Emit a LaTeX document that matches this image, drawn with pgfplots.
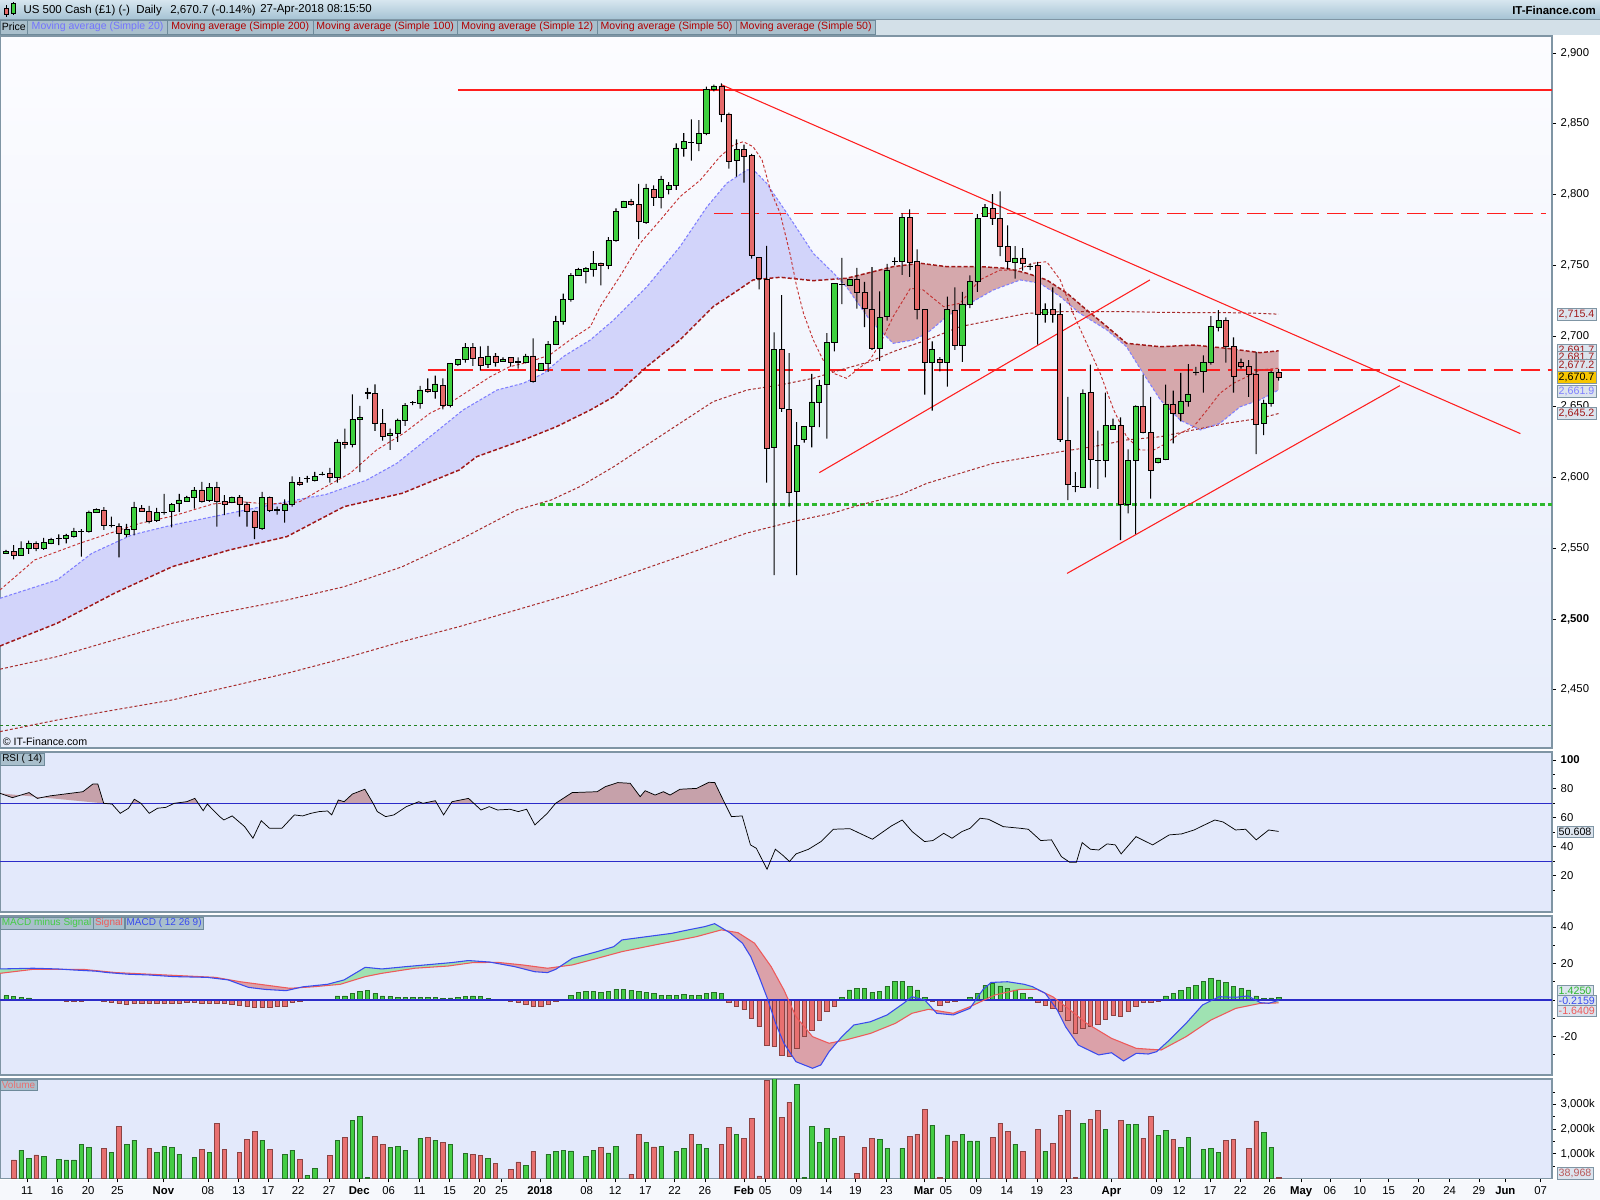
\documentclass[border=0pt]{standalone}
\usepackage{pgfplots}
\pgfplotsset{compat=1.18}
\usepackage{pgfplotstable}
\usepgfplotslibrary{fillbetween}
\usepackage{fontspec}
\setmainfont{Liberation Sans}

\definecolor{cgreen}{HTML}{3FD03F}
\definecolor{cred}{HTML}{E56A6A}
\definecolor{vgreen}{HTML}{44CC44}
\definecolor{vred}{HTML}{E87070}
\definecolor{edge}{HTML}{7F95A4}
\definecolor{pbg}{HTML}{E3E9FB}
\definecolor{ptop}{HTML}{FCFCFF}
\definecolor{pbot}{HTML}{E7EDFB}
\definecolor{lav}{HTML}{D2D4FA}
\definecolor{rose}{HTML}{D5A8AC}
\definecolor{marred}{HTML}{C43333}
\definecolor{madark}{HTML}{A01818}
\definecolor{mablue}{HTML}{8080FF}
\definecolor{lblue}{HTML}{2B2BC8}
\definecolor{macdblue}{HTML}{3A4BEE}
\definecolor{sigred}{HTML}{EE5A5A}
\definecolor{mgfill}{HTML}{9FE2B2}
\definecolor{mrfill}{HTML}{DBA1A9}
\definecolor{rsifill}{HTML}{C6A1AA}
\definecolor{boxbg}{HTML}{DCE4EE}
\definecolor{legbg}{HTML}{A9BFCC}
\definecolor{legedge}{HTML}{6E8A9A}
\definecolor{gold}{HTML}{F7C600}
\definecolor{pagebg}{HTML}{F6F8FC}
\definecolor{tbtop}{HTML}{D7E6EF}
\definecolor{tbbot}{HTML}{A6C3D4}
\definecolor{legrow}{HTML}{D3E0E8}
\definecolor{legred}{HTML}{B00000}
\definecolor{legblue}{HTML}{7373FF}
\definecolor{hred}{HTML}{FF1E1E}
\definecolor{hgreen}{HTML}{2DB82D}

% ---------------- candles ----------------
\pgfplotstableread{
i O H L C
0 2546.4 2548.8 2546.0 2547.9
2 2545.0 2554.9 2544.5 2549.8
3 2550.2 2555.4 2546.0 2553.5
5 2550.2 2557.3 2548.8 2554.0
6 2553.5 2557.3 2552.9 2556.4
7 2556.9 2559.7 2552.1 2557.0
8 2556.9 2560.2 2553.5 2558.8
9 2558.3 2564.4 2557.4 2561.6
10 2561.6 2563.5 2544.0 2561.7
11 2562.1 2576.6 2561.1 2575.6
12 2575.6 2578.1 2575.1 2577.6
14 2566.2 2572.4 2564.8 2566.3
16 2560.1 2567.2 2557.8 2563.4
17 2563.4 2582.7 2559.1 2579.0
20 2569.6 2578.5 2568.6 2575.2
21 2575.2 2588.4 2573.7 2575.3
22 2576.1 2581.8 2564.8 2580.8
23 2581.8 2588.4 2575.6 2584.1
24 2583.2 2587.0 2582.7 2586.0
25 2585.6 2593.1 2578.0 2591.2
27 2583.6 2596.0 2582.7 2593.1
30 2582.7 2586.5 2581.8 2585.6
34 2563.9 2589.9 2563.0 2586.0
36 2577.1 2579.4 2573.7 2577.2
37 2576.6 2584.6 2568.1 2580.8
38 2581.3 2600.7 2579.4 2596.8
40 2599.2 2601.2 2596.3 2599.3
41 2598.2 2603.9 2597.2 2601.0
42 2602.4 2603.9 2601.5 2602.5
44 2600.1 2627.0 2596.3 2625.1
46 2623.2 2658.7 2621.3 2641.1
47 2641.1 2650.6 2603.8 2642.6
48 2659.7 2663.4 2655.4 2659.8
51 2629.9 2634.5 2619.5 2631.3
52 2631.3 2641.6 2625.1 2640.7
53 2640.2 2652.5 2636.5 2651.1
54 2653.0 2653.9 2651.1 2653.1
55 2652.5 2664.8 2648.7 2661.9
57 2661.0 2671.9 2655.8 2666.1
59 2651.1 2680.5 2649.6 2680.3
60 2679.8 2683.7 2678.8 2683.6
61 2683.6 2695.0 2681.2 2692.1
64 2679.8 2693.0 2677.4 2685.9
66 2682.2 2684.9 2682.2 2683.6
68 2681.7 2684.9 2676.9 2681.8
69 2681.2 2687.3 2680.7 2685.9
71 2676.0 2680.4 2675.5 2680.3
72 2680.3 2696.3 2674.6 2694.4
73 2694.0 2714.2 2694.0 2710.0
74 2710.5 2729.9 2708.1 2726.1
75 2725.6 2744.4 2724.2 2743.0
76 2743.0 2748.2 2742.5 2746.8
77 2745.4 2748.7 2737.2 2747.8
78 2747.2 2760.0 2741.9 2751.0
80 2750.0 2769.9 2747.2 2767.6
81 2767.6 2790.2 2766.7 2788.3
82 2791.2 2795.4 2790.9 2795.0
85 2780.3 2807.5 2779.3 2804.6
87 2797.7 2813.1 2790.1 2810.7
88 2803.7 2808.8 2800.0 2806.1
89 2806.1 2836.2 2803.2 2832.9
90 2832.9 2843.3 2826.8 2837.2
91 2836.7 2853.1 2823.9 2836.8
92 2836.2 2852.6 2830.6 2843.3
93 2843.3 2876.2 2841.9 2874.3
94 2874.3 2877.7 2872.9 2876.7
97 2823.9 2839.0 2812.7 2831.6
102 2621.3 2702.5 2531.0 2690.2
105 2590.2 2639.2 2531.0 2622.7
106 2627.0 2636.0 2624.6 2636.0
107 2636.0 2673.2 2621.3 2653.4
108 2653.4 2669.0 2635.5 2665.2
109 2666.1 2702.0 2627.5 2695.3
110 2695.3 2737.2 2689.2 2737.2
112 2735.8 2740.3 2735.4 2740.0
116 2691.0 2731.6 2682.4 2713.2
117 2713.6 2751.0 2710.8 2746.2
118 2752.8 2755.6 2749.9 2752.9
119 2752.8 2786.7 2743.2 2783.8
123 2681.2 2696.2 2647.2 2690.5
125 2681.2 2727.8 2664.2 2718.8
127 2693.4 2731.1 2681.7 2722.1
128 2722.1 2742.9 2719.7 2738.7
129 2738.7 2786.2 2731.1 2783.3
130 2784.3 2793.2 2784.3 2790.9
134 2751.8 2763.5 2740.5 2755.2
136 2749.4 2751.3 2746.6 2749.5
138 2715.0 2723.0 2709.4 2718.8
143 2592.9 2662.3 2592.9 2659.4
146 2612.2 2659.9 2600.0 2636.8
147 2634.0 2641.6 2633.6 2636.8
149 2581.1 2619.8 2574.6 2612.2
150 2612.2 2651.0 2560.0 2650.6
153 2610.9 2613.8 2610.0 2613.8
154 2612.6 2665.6 2612.2 2651.5
156 2645.3 2674.0 2639.6 2653.8
157 2653.8 2680.1 2650.0 2659.0
158 2674.5 2678.2 2672.1 2674.6
159 2675.0 2686.3 2659.9 2681.6
160 2681.2 2714.0 2679.7 2707.0
161 2706.0 2718.3 2703.2 2711.2
167 2638.2 2655.0 2630.0 2652.7
168 2652.7 2675.5 2650.0 2674.4
}\greenT

\pgfplotstableread{
i O H L C
1 2547.9 2552.1 2542.1 2545.0
4 2553.5 2554.9 2547.9 2550.2
13 2577.1 2579.0 2563.0 2566.2
15 2565.7 2567.6 2543.6 2560.6
18 2578.5 2580.4 2576.0 2576.1
19 2576.1 2579.9 2567.6 2569.1
26 2591.2 2596.8 2582.3 2583.2
28 2593.1 2596.8 2565.3 2583.2
29 2583.2 2587.5 2573.3 2580.8
31 2586.0 2587.5 2572.4 2581.3
32 2581.3 2582.7 2565.3 2576.1
33 2576.1 2576.6 2556.4 2564.4
35 2585.6 2586.5 2575.6 2577.1
39 2596.8 2600.3 2594.3 2594.9
43 2602.9 2606.8 2596.3 2600.1
45 2625.1 2634.5 2620.4 2623.7
49 2659.2 2665.8 2633.0 2638.3
50 2638.3 2648.3 2626.0 2628.9
56 2662.4 2670.0 2660.0 2661.0
58 2665.2 2670.0 2648.2 2651.1
62 2692.1 2695.0 2678.8 2684.1
63 2684.6 2692.6 2675.5 2679.3
65 2685.9 2687.8 2678.4 2681.7
67 2684.6 2684.6 2678.4 2681.7
70 2685.9 2698.3 2667.1 2667.6
79 2751.0 2751.9 2735.8 2750.0
83 2795.0 2796.9 2792.1 2793.1
84 2793.1 2807.5 2768.5 2780.8
86 2803.7 2806.5 2792.0 2797.7
95 2876.7 2878.6 2851.2 2856.9
96 2856.9 2857.9 2818.3 2823.4
98 2831.6 2835.2 2808.4 2826.8
99 2827.3 2828.7 2754.7 2757.1
100 2755.7 2755.7 2732.9 2740.5
101 2740.0 2763.7 2596.3 2620.8
103 2690.7 2728.9 2646.3 2648.7
104 2648.2 2687.8 2579.4 2589.3
111 2736.3 2755.2 2722.5 2736.2
113 2740.0 2748.1 2719.3 2730.6
114 2731.0 2738.2 2706.2 2719.3
115 2718.8 2748.6 2690.1 2691.0
120 2783.8 2789.4 2741.8 2751.8
121 2752.8 2761.2 2711.7 2718.8
122 2718.8 2718.8 2658.6 2681.2
124 2683.6 2685.0 2675.0 2681.2
126 2718.3 2734.4 2690.1 2693.4
131 2789.9 2800.3 2778.5 2782.8
132 2782.8 2802.2 2756.4 2763.0
133 2763.0 2778.1 2747.0 2752.8
135 2755.2 2762.0 2746.2 2751.3
137 2749.9 2752.3 2693.9 2715.0
139 2718.8 2734.4 2709.4 2715.0
140 2715.5 2723.0 2625.1 2627.0
141 2626.0 2657.0 2583.9 2595.3
142 2593.5 2603.8 2589.6 2593.4
144 2660.3 2679.7 2592.9 2612.6
145 2612.3 2633.1 2592.0 2612.2
148 2636.8 2642.5 2555.8 2580.7
151 2650.0 2672.6 2631.2 2632.1
152 2631.6 2657.0 2585.0 2605.3
155 2651.5 2661.3 2624.1 2645.3
162 2711.2 2713.2 2681.2 2692.9
163 2692.9 2699.0 2659.9 2671.6
164 2681.6 2684.0 2676.9 2678.8
165 2678.3 2683.0 2657.0 2673.2
166 2673.2 2688.7 2616.5 2637.8
169 2674.5 2676.5 2668.5 2670.7
}\redT

% ---------------- moving averages ----------------
\pgfplotstableread{
i v
-0.8 2520.5
3.8 2541.7
9.8 2553.5
13.8 2560.6
17.8 2567.6
22.2 2572.8
27.5 2581.3
31.1 2582.9
34.6 2581.3
37.3 2581.8
39.0 2582.9
41.7 2591.2
45.7 2603.0
49.2 2619.4
52.8 2631.2
56.3 2645.4
58.5 2651.2
61.6 2661.8
64.3 2671.2
66.9 2678.3
69.6 2681.8
72.2 2686.6
74.9 2697.2
77.6 2706.6
78.9 2720.7
81.5 2741.9
84.2 2765.5
86.9 2782.0
89.5 2798.4
92.2 2810.2
94.8 2826.7
96.6 2835.0
97.9 2837.3
99.2 2833.8
100.4 2824.4
101.5 2803.2
102.8 2786.7
104.1 2758.4
105.0 2734.8
105.9 2716.0
107.2 2697.2
108.5 2683.0
109.9 2673.6
111.6 2670.1
113.0 2676.0
114.7 2683.0
116.1 2694.8
117.8 2713.6
120.1 2733.7
121.8 2732.5
124.5 2720.7
126.7 2723.1
129.3 2739.6
132.0 2746.6
134.2 2746.6
136.4 2751.4
138.2 2752.5
140.0 2739.6
141.7 2716.0
143.5 2694.8
145.3 2673.6
147.1 2647.7
148.8 2628.8
150.6 2619.4
152.4 2619.4
154.1 2624.2
155.9 2631.2
157.7 2635.9
159.5 2647.7
161.2 2659.5
163.0 2666.6
164.8 2671.2
166.5 2676.0
169.0 2677.2
}\maTwelve

\pgfplotstableread{
i v
-0.8 2514.6
6.8 2527.6
11.4 2546.4
16.7 2559.4
22.1 2566.4
29.7 2574.7
37.3 2582.9
42.5 2588.0
47.9 2598.2
51.9 2610.0
56.3 2628.8
60.7 2647.7
65.2 2661.8
68.7 2666.6
71.4 2673.6
74.0 2685.4
77.6 2697.2
80.7 2711.3
85.1 2734.8
89.5 2763.1
93.1 2791.4
95.7 2807.9
98.4 2817.3
99.2 2817.8
101.0 2807.9
103.7 2786.7
107.2 2758.4
109.9 2744.3
111.6 2734.8
114.7 2711.3
117.8 2694.8
120.5 2697.2
122.3 2701.9
124.9 2713.6
128.0 2723.1
131.1 2732.5
134.7 2739.6
137.3 2737.2
140.0 2727.8
142.6 2716.0
146.2 2704.2
148.8 2692.4
151.0 2673.6
153.3 2654.8
155.9 2640.6
158.6 2633.6
161.2 2638.3
163.9 2650.0
166.5 2654.8
169.0 2661.9
}\maTwenty

\pgfplotstableread{
i v
-0.8 2480.9
6.8 2497.0
14.4 2518.2
22.1 2537.0
29.7 2548.8
37.3 2558.2
44.9 2579.4
52.6 2588.8
60.2 2605.3
62.5 2614.7
68.7 2626.5
73.1 2635.9
77.6 2647.7
80.7 2657.1
85.1 2678.3
89.5 2697.2
93.9 2720.7
96.6 2730.2
99.2 2739.6
102.8 2741.5
107.2 2739.1
111.6 2740.8
113.4 2743.1
117.8 2749.0
121.4 2751.4
124.9 2749.0
129.4 2749.0
132.9 2747.8
135.6 2744.3
138.2 2739.6
140.9 2730.2
143.5 2718.4
146.2 2706.6
148.8 2694.8
153.3 2692.4
157.7 2693.6
162.1 2691.3
166.5 2688.2
169.0 2689.5
}\maFifty

\pgfplotstableread{
i v
-0.8 2464.5
6.8 2473.4
14.4 2485.2
22.1 2497.0
28.2 2504.0
37.3 2513.4
44.9 2522.8
52.6 2536.9
60.2 2555.8
67.8 2577.0
72.4 2584.1
76.2 2593.5
80.7 2607.6
85.1 2623.0
89.5 2638.3
93.9 2653.6
98.4 2661.8
102.8 2665.4
107.2 2670.1
110.8 2676.0
114.7 2681.8
117.8 2688.9
122.3 2697.2
126.7 2706.6
131.1 2711.3
135.6 2716.0
140.0 2717.2
144.4 2717.2
148.8 2717.2
153.3 2716.7
157.7 2716.5
162.1 2716.5
166.5 2716.0
169.0 2715.4
}\maHundred

\pgfplotstableread{
i v
-0.8 2420.4
6.8 2428.6
14.4 2435.7
22.1 2442.8
29.7 2452.2
37.3 2461.6
44.9 2472.2
52.6 2484.0
60.2 2494.6
67.8 2506.4
75.4 2518.2
83.1 2532.3
90.7 2546.4
98.3 2560.6
104.4 2568.8
109.7 2574.7
113.4 2580.6
118.7 2587.6
122.3 2595.9
131.1 2610.0
140.0 2618.2
144.4 2621.8
148.8 2626.5
153.3 2628.8
157.7 2633.6
162.1 2638.3
166.5 2641.8
169.0 2645.2
}\maTwoHundred

% ---------------- RSI ----------------
\pgfplotstableread{
i v
-0.8 76.9
0.85 73.9
3.05 77.4
4.16 73.4
5.81 75.1
10.21 78.0
11.53 83.3
12.19 83.3
12.97 70.0
14.07 69.5
15.17 63.1
16.27 66.6
17.04 72.8
17.92 70.0
19.02 63.1
20.12 66.6
21.22 67.2
22.33 70.0
23.98 71.1
25.08 73.4
26.18 64.9
26.73 69.5
28.38 60.8
28.93 58.5
30.03 61.3
31.69 53.9
32.79 45.9
33.89 58.0
34.99 52.8
36.64 52.8
38.29 62.0
39.39 61.3
40.49 63.1
41.60 64.3
42.70 64.7
43.25 62.0
44.13 72.3
44.90 71.1
46.00 76.4
47.65 79.7
48.75 70.0
49.30 64.3
50.41 60.8
51.51 62.0
53.16 67.7
54.81 71.1
55.36 70.0
57.01 71.8
58.11 62.0
59.22 71.1
61.42 73.4
63.07 65.4
64.17 67.7
65.27 65.4
66.92 65.9
68.03 64.3
69.13 65.9
70.23 55.1
71.88 63.1
72.98 70.0
75.18 77.4
78.49 78.0
79.59 81.5
81.24 84.3
82.89 83.8
84.21 74.6
84.87 78.7
86.19 75.7
87.30 78.0
88.18 75.7
89.50 79.7
91.70 80.3
93.35 84.5
94.12 84.3
95.55 68.9
96.33 60.8
97.76 61.3
98.86 41.3
99.63 39.0
101.06 24.5
102.16 38.3
103.26 33.7
104.03 29.8
104.91 35.1
106.57 38.3
108.22 43.6
109.87 52.1
112.07 52.5
113.17 49.8
115.05 45.2
116.81 51.6
117.58 54.4
119.01 58.5
120.33 50.5
121.98 43.6
123.08 44.3
124.52 49.3
125.62 45.9
126.94 50.5
128.04 52.8
129.36 59.7
130.46 59.0
132.44 53.9
134.65 52.8
135.75 52.1
137.40 44.3
138.83 44.8
140.15 33.2
141.26 29.3
142.14 29.3
142.91 42.9
144.01 38.3
145.11 37.8
146.21 42.0
147.31 41.3
148.08 35.1
150.06 47.0
152.27 41.3
154.47 48.2
156.12 48.9
157.77 51.6
158.87 54.4
160.53 58.5
161.63 57.1
163.28 51.6
164.60 52.1
166.03 44.8
167.68 51.6
169.00 50.6
}\rsiT

% ---------------- MACD ----------------
\pgfplotstableread{
i v
-0.8 17.0
3.6 17.4
6.9 17.0
9.1 16.4
11.9 15.8
13.5 15.0
16.3 14.1
19.0 13.7
22.3 12.8
26.7 12.4
29.5 11.0
32.2 6.9
34.4 5.8
37.2 5.1
39.4 7.2
42.7 8.6
44.9 11.0
47.7 17.9
49.9 17.0
53.2 18.3
56.5 19.5
59.2 20.5
61.4 21.6
64.2 20.8
67.5 18.3
70.2 15.5
71.9 15.0
73.0 16.8
75.2 22.8
78.5 26.5
80.7 29.2
81.8 32.9
85.1 34.7
88.4 36.5
90.6 38.4
92.8 40.2
94.1 41.8
96.1 36.9
97.8 31.1
98.9 23.7
100.0 12.8
101.1 0.9
102.2 -12.8
103.3 -23.7
104.9 -33.8
107.1 -37.4
108.2 -35.6
109.3 -28.3
111.0 -20.1
112.6 -13.7
114.8 -11.9
117.0 -8.2
119.2 -1.8
120.3 1.8
122.0 0.0
123.6 -7.3
125.8 -8.2
128.0 -4.6
129.7 5.5
130.8 9.6
133.0 10.0
135.2 8.6
136.3 7.3
138.0 3.7
139.6 -5.5
140.7 -14.6
142.4 -24.7
145.1 -30.1
146.8 -28.9
148.4 -33.4
150.1 -29.2
151.7 -29.6
152.8 -28.3
154.5 -21.9
156.7 -12.8
158.9 -2.7
161.1 1.8
163.3 1.5
164.9 2.2
166.6 -1.5
167.7 -1.8
169.0 -0.2
}\macdT

\pgfplotstableread{
i v
-0.8 14.6
3.6 16.8
10.2 16.8
14.6 15.0
21.2 13.7
27.8 12.4
31.1 10.0
34.4 8.2
37.7 6.4
41.0 7.3
44.4 8.6
47.7 12.8
49.9 14.6
54.3 17.4
58.7 18.6
62.0 20.5
65.3 20.6
68.6 19.2
71.9 17.4
75.2 19.2
78.5 22.8
81.8 26.5
87.3 31.1
91.7 34.7
95.0 38.4
97.2 36.9
99.4 31.1
101.6 18.3
103.3 5.5
104.9 -9.1
107.1 -20.1
109.3 -23.7
111.5 -21.9
114.8 -18.3
118.1 -12.8
120.3 -7.3
122.5 -5.1
125.8 -7.3
128.0 -3.7
131.3 2.7
134.6 5.8
136.9 5.8
139.0 1.8
141.3 -5.5
143.5 -12.8
146.8 -21.0
150.1 -26.5
153.4 -27.4
156.7 -20.1
160.0 -11.0
163.3 -4.6
166.6 -1.8
169.0 -1.6
}\sigT

\pgfplotstableread{
i v
0 2.4
1 1.8
2 1.5
3 1.1
4 0.4
5 0.4
6 0.1
40 0.3
41 0.4
42 0.5
43 0.5
44 2.2
45 2.2
46 3.7
47 4.7
48 5.1
49 3.5
50 2.2
51 1.8
52 1.5
53 1.5
54 1.5
55 1.5
56 1.5
57 1.5
58 0.8
59 1.1
60 1.5
61 2.0
62 2.2
63 1.8
64 0.7
65 0.2
74 0.5
75 2.6
76 4.0
77 4.6
78 4.6
79 4.2
80 4.6
81 5.8
82 5.8
83 5.1
84 4.6
85 4.0
86 3.7
87 2.6
88 2.4
89 2.7
90 3.1
91 2.4
92 2.7
93 3.5
94 4.0
95 3.7
111 1.5
112 5.5
113 6.2
114 6.2
115 4.0
116 4.6
117 7.3
118 10.4
119 10.4
120 7.3
121 5.5
122 1.5
128 1.5
129 3.7
130 8.0
131 9.1
132 7.7
133 6.2
134 5.5
135 3.7
136 1.5
154 2.2
155 3.7
156 5.1
157 6.9
158 8.2
159 10.0
160 11.9
161 11.0
162 9.6
163 7.3
164 6.2
165 5.5
166 2.2
167 1.0
168 1.1
169 1.4
}\histG

\pgfplotstableread{
i v
7 -0.2
8 -0.5
9 -0.5
10 -0.5
11 -0.3
12 -0.4
13 -0.7
14 -1.1
15 -1.8
16 -2.2
17 -1.8
18 -1.8
19 -1.8
20 -1.8
21 -1.8
22 -1.8
23 -1.8
24 -1.5
25 -1.5
26 -1.8
27 -1.8
28 -1.8
29 -2.0
30 -2.4
31 -3.0
32 -3.5
33 -4.0
34 -4.0
35 -4.0
36 -3.7
37 -3.3
38 -1.2
39 -0.5
66 -0.4
67 -0.7
68 -1.1
69 -2.2
70 -3.3
71 -3.3
72 -2.2
73 -0.5
96 -1.5
97 -3.7
98 -5.1
99 -10.0
100 -14.6
101 -24.7
102 -25.6
103 -30.1
104 -31.0
105 -26.5
106 -20.1
107 -16.4
108 -10.9
109 -6.0
110 -3.7
123 -0.9
124 -2.7
125 -1.5
126 -0.7
127 -0.3
137 -1.5
138 -2.7
139 -4.4
140 -6.0
141 -11.0
142 -18.3
143 -15.5
144 -14.2
145 -13.2
146 -10.6
147 -8.2
148 -9.1
149 -6.4
150 -3.5
151 -1.5
152 -1.2
153 -0.9
}\histR

% ---------------- Volume (thousands) ----------------
\pgfplotstableread{
i v
2 1154
3 817
5 884
7 776
8 749
9 749
10 1397
11 1262
14 1073
16 1397
17 1559
20 1073
21 1316
22 1262
23 992
25 857
27 1073
34 1559
37 992
38 1154
40 128
41 412
44 1559
46 2369
47 2531
48 47
51 1262
52 1316
53 1154
55 1640
57 1559
59 1397
61 1019
64 817
69 533
72 992
73 1100
74 1154
75 1114
77 911
78 1154
80 1033
81 1316
85 1478
87 1316
89 1100
90 1222
92 1397
93 1222
97 1802
102 4043
105 3827
106 47
107 2126
108 1478
109 2045
110 1640
116 1586
117 1222
119 1222
123 2166
125 1762
127 1802
128 1519
129 1519
134 1397
138 1100
143 2234
146 1991
149 2207
150 2207
153 1748
154 1964
156 1262
157 1667
159 1181
160 1222
161 1073
167 1883
168 1262
}\volG

\pgfplotstableread{
i v
1 749
4 952
13 1222
15 2126
19 1222
26 1181
28 2234
29 1181
31 1073
32 1586
33 1910
35 1181
39 776
43 938
45 1667
49 1721
50 1397
56 1667
58 1478
62 992
63 938
65 614
67 371
68 668
70 1100
79 1262
83 169
84 1802
86 1276
91 1802
95 1397
96 2072
98 1640
99 2437
100 101
101 3989
103 2477
104 3098
111 1721
113 209
114 1262
115 1640
120 1721
121 1802
122 2801
124 47
126 1519
131 1667
132 2234
133 1910
135 1100
137 1991
139 1424
140 2572
141 2774
142 47
144 2410
145 2774
148 2369
151 1640
152 2531
155 1586
162 1559
163 1586
165 1222
166 2329
169 39
}\volR

\pgfplotsset{
  panel/.style={scale only axis, width=1164pt, xmin=-0.8, xmax=205.3,
    axis line style={draw=edge, line width=1.1pt},
    tick label style={font=\fontsize{8.5}{10}\selectfont, text=black},
    ytick pos=right, yticklabel pos=right, tick align=outside,
    major tick length=3pt, minor tick length=2pt,
    every tick/.style={black, line width=0.5pt},
    xtick=\empty, clip mode=individual},
  ovl/.style={scale only axis, width=1164pt, xmin=-0.8, xmax=205.3,
    hide axis, at={(0pt,-27pt)}, anchor=north west, height=534pt,
    ymin=2408.8, ymax=2912},
}
\tikzset{vbox/.style={anchor=west, fill=boxbg, draw=edge, line width=0.5pt,
   inner xsep=1.3pt, inner ysep=1.3pt, font=\fontsize{8}{9}\selectfont, xshift=3.5pt}}
\newcommand\legbox[4]{%
  \fill[legbg] (#1pt,-15pt) rectangle (#2pt,-25.5pt);
  \draw[legedge, line width=0.5pt] (#1pt,-15pt) rectangle (#2pt,-25.5pt);
  \node[text=#4, font=\fontsize{7.9}{9}\selectfont, inner sep=0pt] at ({(#1+#2)/2*1pt},-20.4pt) {#3};}

\begin{document}
\begin{tikzpicture}
% title bar
\shade[top color=tbtop, bottom color=tbbot] (0,0) rectangle (1200pt,-14.2pt);
\fill[legrow] (0,-14.2pt) rectangle (1200pt,-26.6pt);
\draw[edge, line width=0.5pt] (0,-14.2pt) -- (1200pt,-14.2pt);
% label strip below the panels
\fill[pagebg] (0,-885pt) rectangle (1200pt,-900pt);
% small icon
\draw[black, line width=0.4pt] (5pt,-4pt) -- (5pt,-12.5pt);
\fill[cred, draw=black, line width=0.3pt] (3.5pt,-6pt) rectangle (6.5pt,-11pt);
\draw[black, line width=0.4pt] (10pt,-1.5pt) -- (10pt,-11.5pt);
\fill[cgreen, draw=black, line width=0.3pt] (8.5pt,-2.5pt) rectangle (11.5pt,-10pt);
\node[anchor=west, font=\fontsize{8.6}{10}\selectfont, inner sep=0pt] at (17.5pt,-7.6pt) {US 500 Cash (£1) (-)};
\node[anchor=west, font=\fontsize{8.6}{10}\selectfont, inner sep=0pt] at (102pt,-7.6pt) {Daily};
\node[anchor=west, font=\fontsize{8.6}{10}\selectfont, inner sep=0pt] at (127.5pt,-7.6pt) {2,670.7 (-0.14\%)};
\node[anchor=west, font=\fontsize{8.6}{10}\selectfont, inner sep=0pt] at (195pt,-7.6pt) {27-Apr-2018 08:15:50};
\node[anchor=east, font=\bfseries\fontsize{8.6}{10}\selectfont, inner sep=0pt] at (1197pt,-7.6pt) {IT-Finance.com};
% legend
\legbox{0}{20.7}{Price}{black}
\legbox{20.7}{125.7}{Moving average (Simple 20)}{legblue}
\legbox{125.7}{234.7}{Moving average (Simple 200)}{legred}
\legbox{234.7}{343.1}{Moving average (Simple 100)}{legred}
\legbox{343.1}{447.8}{Moving average (Simple 12)}{legred}
\legbox{447.8}{552}{Moving average (Simple 50)}{legred}
\legbox{552}{656.6}{Moving average (Simple 50)}{legred}

% ================= PRICE PANEL =================
\begin{axis}[panel, at={(0pt,-27pt)}, anchor=north west, height=534pt,
  ymin=2408.8, ymax=2912,
  axis background/.style={top color=ptop, bottom color=pbot},
  ytick={2450,2500,2550,2600,2650,2700,2750,2800,2850,2900},
  yticklabels={{2,450},{\textbf{2,500}},{2,550},{2,600},{2,650},{2,700},{2,750},{2,800},{2,850},{2,900}}]
\addplot[draw=none, name path=mtw] table[x=i,y=v]{\maTwenty};
\addplot[draw=none, name path=mfi] table[x=i,y=v]{\maFifty};
\addplot[fill=lav, draw=none] fill between[of=mtw and mfi, soft clip={domain=-0.8:110.7}];
\addplot[fill=rose, draw=none] fill between[of=mtw and mfi, soft clip={domain=110.7:169}];
% horizontal levels
\addplot[hgreen!70!black, line width=0.6pt, dash pattern=on 2.5pt off 2pt] coordinates {(-0.8,2424.9) (205.3,2424.9)};
\addplot[hgreen, line width=1.6pt, dash pattern=on 3.5pt off 2.5pt] coordinates {(70.9,2580.9) (205.3,2580.9)};
\addplot[hred, line width=1.4pt] coordinates {(60.0,2873.9) (205.3,2873.9)};
\addplot[hred, line width=0.9pt, dash pattern=on 14pt off 6pt] coordinates {(94.0,2786.7) (204.5,2786.7)};
\addplot[hred, line width=0.9pt, dash pattern=on 14pt off 6pt] coordinates {(56.0,2676.0) (205.3,2676.0)};
% moving averages
\addplot[marred!85!black, line width=0.75pt, dash pattern=on 2.2pt off 1.6pt] table[x=i,y=v]{\maTwoHundred};
\addplot[marred!85!black, line width=0.75pt, dash pattern=on 2.2pt off 1.6pt] table[x=i,y=v]{\maHundred};
\addplot[madark, line width=1.1pt, dash pattern=on 3pt off 1.6pt] table[x=i,y=v]{\maFifty};
\addplot[mablue, line width=0.8pt, dash pattern=on 2.2pt off 1.4pt] table[x=i,y=v]{\maTwenty};
\addplot[marred, line width=0.7pt, dash pattern=on 2.2pt off 1.6pt] table[x=i,y=v]{\maTwelve};
% trend lines
\addplot[hred, line width=0.8pt] coordinates {(95.0,2877.6) (201.1,2631.0)};
\addplot[hred, line width=0.8pt] coordinates {(108.0,2603.4) (151.9,2739.6)};
\addplot[hred, line width=0.8pt] coordinates {(140.9,2532.2) (185.1,2664.9)};
% value boxes
\node[vbox, text=madark] at (axis cs:205.3,2715.4) {2,715.4};
\node[vbox, text=madark] at (axis cs:205.3,2690.0) {2,691.7};
\node[vbox, text=madark] at (axis cs:205.3,2684.5) {2,681.7};
\node[vbox, text=madark] at (axis cs:205.3,2679.5) {2,677.2};
\node[vbox, fill=gold, text=black] at (axis cs:205.3,2670.7) {2,670.7};
\node[vbox, text=mablue] at (axis cs:205.3,2661.1) {2,661.9};
\node[vbox, text=madark] at (axis cs:205.3,2645.4) {2,645.2};
\node[anchor=south west, font=\fontsize{8}{9}\selectfont, inner sep=0pt] at (rel axis cs:0,0) [xshift=2pt, yshift=1.5pt] {\textcopyright{} IT-Finance.com};
\end{axis}

% wicks (green candles)
\begin{axis}[ovl, ybar stacked, bar width=0.8pt]
\addplot[draw=none, fill=none] table[x=i, y=L]{\greenT};
\addplot[fill=black, draw=none] table[x=i, y expr=\thisrow{H}-\thisrow{L}]{\greenT};
\end{axis}
% wicks (red candles)
\begin{axis}[ovl, ybar stacked, bar width=0.8pt]
\addplot[draw=none, fill=none] table[x=i, y=L]{\redT};
\addplot[fill=black, draw=none] table[x=i, y expr=\thisrow{H}-\thisrow{L}]{\redT};
\end{axis}
% green bodies
\begin{axis}[ovl, ybar stacked, bar width=3.8pt]
\addplot[draw=none, fill=none] table[x=i, y=O]{\greenT};
\addplot[fill=cgreen, draw=black, line width=0.55pt] table[x=i, y expr=\thisrow{C}-\thisrow{O}]{\greenT};
\end{axis}
% red bodies
\begin{axis}[ovl, ybar stacked, bar width=3.8pt]
\addplot[draw=none, fill=none] table[x=i, y=C]{\redT};
\addplot[fill=cred, draw=black, line width=0.55pt] table[x=i, y expr=\thisrow{O}-\thisrow{C}]{\redT};
\end{axis}

% ================= RSI PANEL =================
\begin{axis}[panel, at={(0pt,-564pt)}, anchor=north west, height=120pt,
  ymin=-5, ymax=105.4, axis background/.style={fill=pbg},
  ytick={20,40,60,80,100}, yticklabels={20,40,60,80,\textbf{100}},
  minor ytick={10,30,50,70,90}]
\addplot[draw=none, name path=rsi] table[x=i,y=v]{\rsiT};
\addplot[draw=none, name path=rs70] coordinates {(-0.8,70) (205.3,70)};
\addplot[fill=rsifill, draw=none] fill between[of=rsi and rs70, soft clip={(axis cs:-0.8,69.95) rectangle (axis cs:170,100)}];
\addplot[lblue, line width=0.8pt] coordinates {(-0.8,70) (205.3,70)};
\addplot[lblue, line width=0.8pt] coordinates {(-0.8,30) (205.3,30)};
\addplot[black, line width=0.55pt] table[x=i,y=v]{\rsiT};
\node[vbox, text=black] at (axis cs:205.3,50.6) {50.608};
\node[anchor=north west, fill=legbg, draw=legedge, line width=0.4pt, inner xsep=1.5pt, inner ysep=1.2pt,
  font=\fontsize{7.5}{8.5}\selectfont] at (rel axis cs:0,1) [yshift=-0.6pt] {RSI ( 14)};
\end{axis}

% ================= MACD PANEL =================
\begin{axis}[panel, at={(0pt,-687pt)}, anchor=north west, height=119.25pt,
  ymin=-41.1, ymax=46.0, axis background/.style={fill=pbg},
  ytick={-20,20,40}, yticklabels={-20,20,40}, minor ytick={-30,-10,0,10,30}]
\addplot[draw=none, name path=macd] table[x=i,y=v]{\macdT};
\addplot[draw=none, name path=sig] table[x=i,y=v]{\sigT};
\addplot[fill=mgfill, draw=none] fill between[of=macd and sig, soft clip={domain=-0.8:8}];
\addplot[fill=mrfill, draw=none] fill between[of=macd and sig, soft clip={domain=8:40.3}];
\addplot[fill=mgfill, draw=none] fill between[of=macd and sig, soft clip={domain=40.3:65.5}];
\addplot[fill=mrfill, draw=none] fill between[of=macd and sig, soft clip={domain=65.5:74}];
\addplot[fill=mgfill, draw=none] fill between[of=macd and sig, soft clip={domain=74:95.5}];
\addplot[fill=mrfill, draw=none] fill between[of=macd and sig, soft clip={domain=95.5:110.4}];
\addplot[fill=mgfill, draw=none] fill between[of=macd and sig, soft clip={domain=110.4:123}];
\addplot[fill=mrfill, draw=none] fill between[of=macd and sig, soft clip={domain=123:128.5}];
\addplot[fill=mgfill, draw=none] fill between[of=macd and sig, soft clip={domain=128.5:138}];
\addplot[fill=mrfill, draw=none] fill between[of=macd and sig, soft clip={domain=138:153.5}];
\addplot[fill=mgfill, draw=none] fill between[of=macd and sig, soft clip={domain=153.5:169}];
\addplot[ybar, bar width=3.3pt, bar shift=0pt, fill=vgreen, draw=vgreen!55!black, line width=0.4pt] table[x=i,y=v]{\histG};
\addplot[ybar, bar width=3.3pt, bar shift=0pt, fill=vred, draw=vred!60!black, line width=0.4pt] table[x=i,y=v]{\histR};
\addplot[lblue, line width=0.8pt] coordinates {(-0.8,0) (205.3,0)};
\addplot[sigred, line width=0.8pt] table[x=i,y=v]{\sigT};
\addplot[macdblue, line width=0.8pt] table[x=i,y=v]{\macdT};
\node[vbox, text=hgreen] at (axis cs:205.3,4.9) {1.4250};
\node[vbox, text=macdblue] at (axis cs:205.3,-0.3) {-0.2159};
\node[vbox, text=sigred] at (axis cs:205.3,-6.0) {-1.6409};
\node[anchor=north west, fill=legbg, draw=legedge, line width=0.4pt, inner xsep=1.2pt, inner ysep=1.2pt,
  font=\fontsize{7.5}{8.5}\selectfont, text=vgreen] (mb1) at (rel axis cs:0,1) [yshift=-0.6pt] {MACD minus Signal};
\node[anchor=north west, fill=legbg, draw=legedge, line width=0.4pt, inner xsep=1.2pt, inner ysep=1.2pt,
  font=\fontsize{7.5}{8.5}\selectfont, text=sigred] (mb2) at (mb1.north east) {Signal};
\node[anchor=north west, fill=legbg, draw=legedge, line width=0.4pt, inner xsep=1.2pt, inner ysep=1.2pt,
  font=\fontsize{7.5}{8.5}\selectfont, text=macdblue] at (mb2.north east) {MACD ( 12 26 9)};
\end{axis}

% ================= VOLUME PANEL =================
\begin{axis}[panel, at={(0pt,-809.25pt)}, anchor=north west, height=74.6pt,
  ymin=0, ymax=4030, axis background/.style={fill=pbg},
  ytick={1000,2000,3000}, yticklabels={{1,000k},{2,000k},{3,000k}},
  minor ytick={500,1500,2500,3500},
  xtick pos=bottom,
  xtick={2.8,6.8,10.9,14.8,20.9,26.8,30.9,34.8,38.8,42.9,46.9,50.8,54.9,58.9,62.9,65.8,70.9,77.1,80.9,84.9,88.8,92.8,98.0,100.8,104.9,108.9,112.8,116.9,121.9,124.8,128.8,132.9,136.9,140.8,146.8,152.8,155.8,159.9,163.9,167.8,172.0,175.8,179.8,183.6,187.6,191.7,195.6,199.1,203.8},
  xticklabels={11,16,20,25,\textbf{Nov},08,13,17,22,27,\textbf{Dec},06,11,15,20,25,\textbf{2018},08,12,17,22,26,\textbf{Feb},05,09,14,19,23,\textbf{Mar},05,09,14,19,23,\textbf{Apr},09,12,17,22,26,\textbf{May},06,10,15,20,24,29,\textbf{Jun},07},
  xticklabel style={yshift=0.5pt}]
\addplot[ybar, bar width=3.4pt, bar shift=0pt, fill=vgreen, draw=vgreen!55!black, line width=0.4pt] table[x=i,y=v]{\volG};
\addplot[ybar, bar width=3.4pt, bar shift=0pt, fill=vred, draw=vred!60!black, line width=0.4pt] table[x=i,y=v]{\volR};
\node[vbox, text=vred!80!black] at (axis cs:205.3,223) {38,968};
\node[anchor=north west, fill=legbg, draw=legedge, line width=0.4pt, inner xsep=1.2pt, inner ysep=1.2pt,
  font=\fontsize{7.5}{8.5}\selectfont, text=vred] at (rel axis cs:0,1) [yshift=-0.6pt] {Volume};
\end{axis}
\pgfresetboundingbox
\path[use as bounding box] (0,0) rectangle (1200pt,-900pt);
\end{tikzpicture}
\end{document}
